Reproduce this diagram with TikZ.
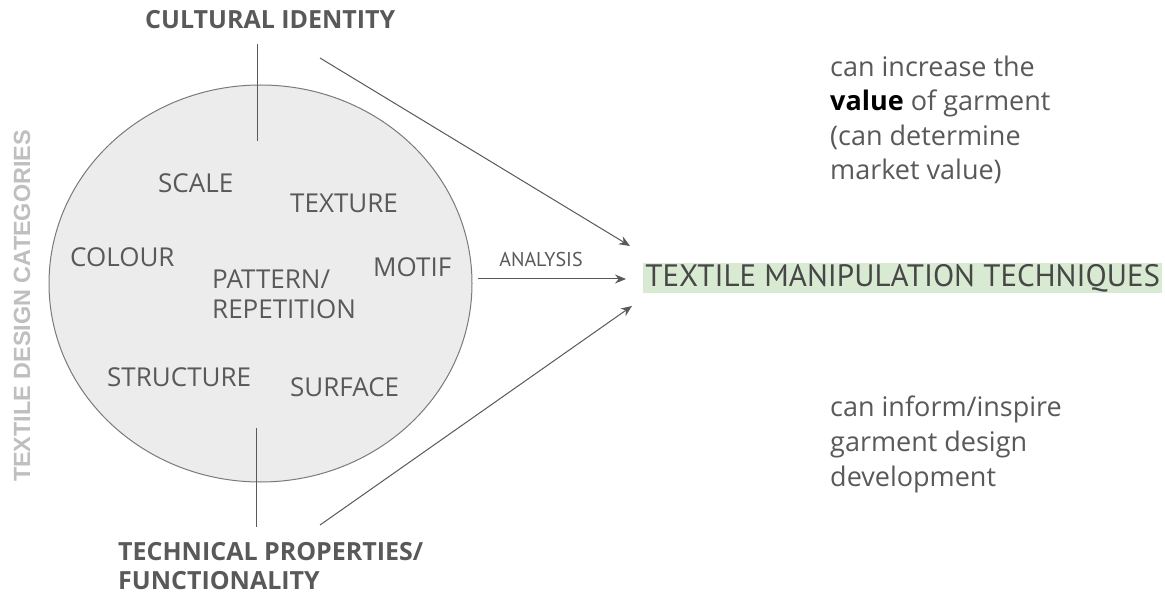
\documentclass[tikz,border=0pt]{standalone}
\usepackage{fontspec}
\setmainfont{Open Sans}
\newfontfamily\arialf{Liberation Sans}
\newfontfamily\headf{PT Sans}
\usetikzlibrary{arrows.meta,shapes.geometric}
\definecolor{txt}{HTML}{595959}
\definecolor{dark}{HTML}{474747}
\definecolor{circfill}{HTML}{ECECEC}
\definecolor{circline}{HTML}{7A7A7A}
\definecolor{hl}{HTML}{D9EAD3}
\definecolor{vert}{HTML}{BFBFBF}
\tikzset{
  item/.style={anchor=base west, inner sep=0pt, text=txt, font=\fontsize{26}{30}\selectfont},
  bolditem/.style={anchor=base west, inner sep=0pt, text=txt, font=\fontsize{25}{29}\selectfont\bfseries, align=left},
  note/.style={anchor=base west, inner sep=0pt, text=txt, font=\fontsize{27}{34.6}\selectfont, align=left},
  conn/.style={draw=txt, line width=1pt},
  arr/.style={conn, -{Stealth[length=11pt,width=9pt]}},
}
\begin{document}
\begin{tikzpicture}[x=1pt,y=-1pt]
\useasboundingbox (0,0) rectangle (1165,593);
\fill[white] (0,0) rectangle (1165,593);
% circle
\node[draw=circline, fill=circfill, line width=1pt, ellipse, minimum width=423pt, minimum height=397pt, inner sep=0pt] (circ) at (260.5,283.5) {};
% vertical label
\node[rotate=90, text=vert, inner sep=0pt, font=\arialf\fontsize{23.4}{28}\selectfont\bfseries] (tdc) at (22,306) {TEXTILE DESIGN CATEGORIES};
% items
\node[item] (scale) at (158,192.7) {SCALE};
\node[item] (texture) at (290,213) {TEXTURE};
\node[item] (colour) at (70,267) {COLOUR};
\node[item] (motif) at (373,277) {MOTIF};
\node[item] (pattern) at (212,289) {PATTERN/};
\node[item] (repet) at (212,319) {REPETITION};
\node[item] (structure) at (107,387) {STRUCTURE};
\node[item] (surface) at (290,397) {SURFACE};
% top / bottom labels
\node[bolditem] (cult) at (145,29) {CULTURAL IDENTITY};
\node[bolditem] (tech) at (118,589) {TECHNICAL PROPERTIES/\\FUNCTIONALITY};
\coordinate (cultA) at (257,44);
\coordinate (cultB) at (257,141);
\coordinate (techA) at (256,428);
\coordinate (techB) at (256,527);
\draw[conn] (cultA) -- (cultB);
\draw[conn] (techA) -- (techB);
% target
\node[fill=hl, inner sep=0pt, minimum width=519pt, minimum height=30pt, anchor=west] (tmt) at (643,278) {};
\node[text=dark, inner sep=0pt, font=\headf\fontsize{31}{34}\selectfont] (tmtt) at (tmt.center) {TEXTILE MANIPULATION TECHNIQUES};
% arrows
\coordinate (s1) at (320,58);
\coordinate (e1) at (630,246);
\coordinate (s2) at (478,279);
\coordinate (e2) at (626,279);
\coordinate (s3) at (320,525);
\coordinate (e3) at (632,306);
\draw[arr] (s1) -- (e1);
\draw[arr] (s2) -- (e2);
\node[anchor=base, inner sep=0pt, text=txt, font=\headf\fontsize{20}{24}\selectfont] (ana) at (541,267) {ANALYSIS};
\draw[arr] (s3) -- (e3);
% notes
\node[note] (n1) at (830,180) {can increase the\\{\color{black}\bfseries value} of garment\\(can determine\\market value)};
\node[note] (n2) at (830,486) {can inform/inspire\\garment design\\development};
\end{tikzpicture}
\end{document}
